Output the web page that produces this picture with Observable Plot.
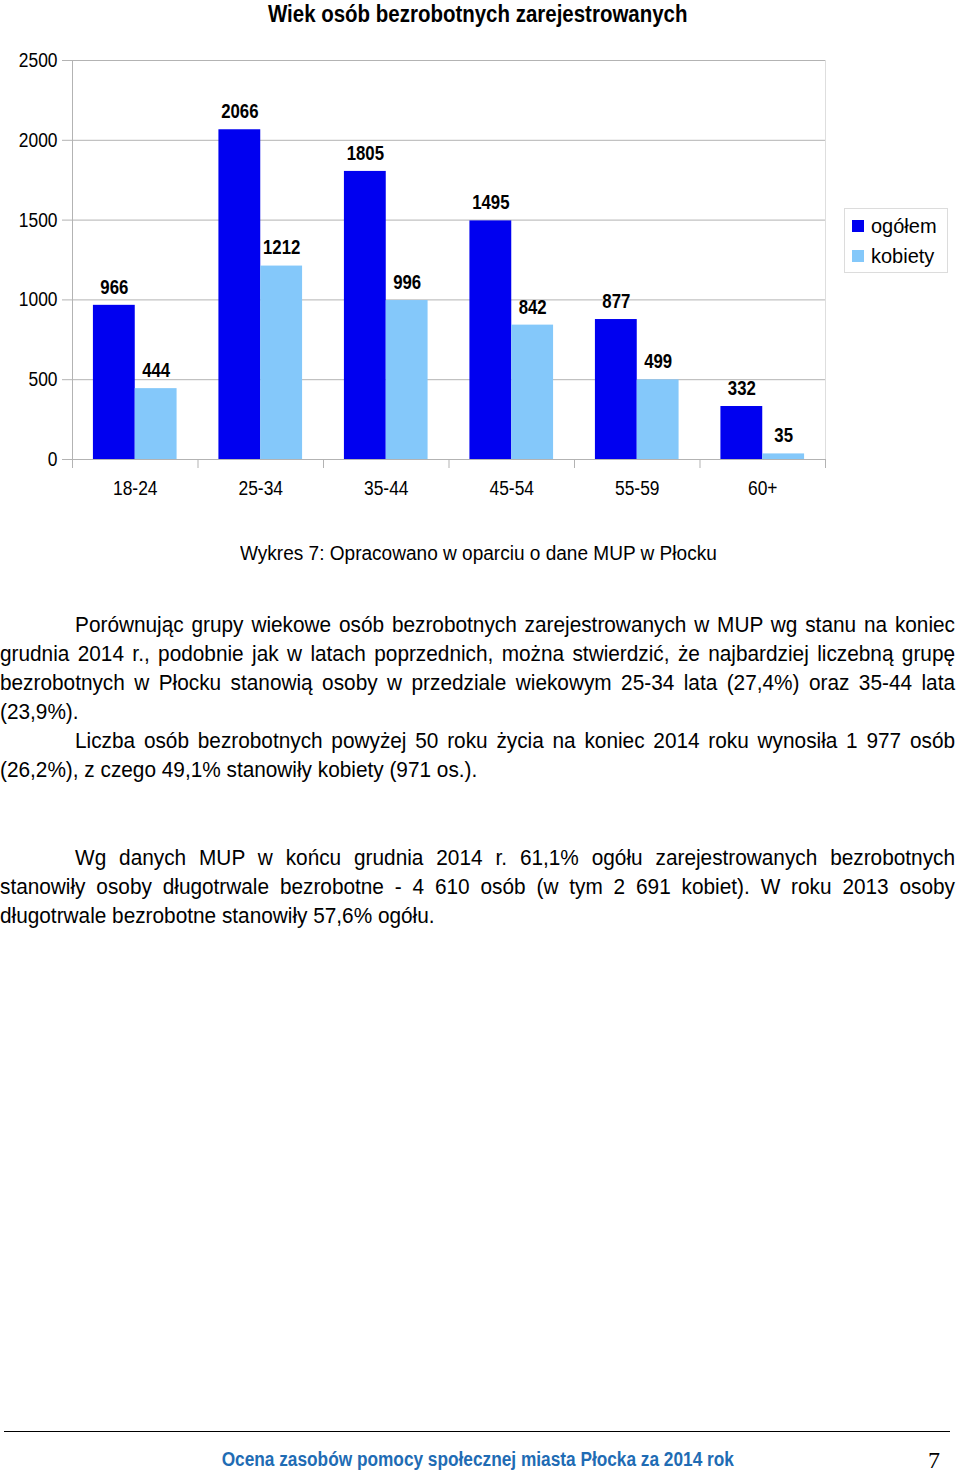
<!DOCTYPE html>
<html>
<head>
<meta charset="utf-8">
<script src="https://cdn.jsdelivr.net/npm/d3@7"></script>
<script src="https://cdn.jsdelivr.net/npm/@observablehq/plot@0.6"></script>
<style>
  html, body { margin: 0; padding: 0; background: #fff; }
  body { width: 960px; height: 1471px; position: relative; overflow: hidden;
         font-family: "Liberation Sans Narrow", "Arial Narrow", "Liberation Sans", sans-serif; color: #000; }
  .abs { position: absolute; }
  .sx { display: inline-block; white-space: nowrap; transform-origin: 50% 50%; }
  #title { top: 0; left: 0; width: 956px; text-align: center; font-weight: bold; font-size: 23px; line-height: 28px; }
  #title .sx { transform: scaleX(0.89); }
  #chart { top: 30px; left: 0; }
  #legend { left: 844px; top: 208px; width: 104px; height: 65px; border: 1px solid #dcdcdc; box-sizing: border-box; }
  .lg-row { position: absolute; left: 7px; font-size: 20px; line-height: 24px; height: 24px; white-space: nowrap; }
  .lg-sw { display: inline-block; width: 12px; height: 12px; vertical-align: middle; margin-right: 7px; position: relative; top: -2px; }
  #caption { top: 540px; left: 0; width: 956px; text-align: center; font-size: 20px; line-height: 26px; }
  #caption .sx { transform: scaleX(0.952); }
  .para { left: 0; width: 1010.6px; font-size: 22px; line-height: 29px; transform: scaleX(0.945); transform-origin: 0 0; }
  .ln { height: 29px; white-space: nowrap; text-align: justify; text-align-last: justify; }
  .ln.last { text-align: left; text-align-last: left; }
  .ln.indent { padding-left: 79.4px; }
  #rule { left: 4px; top: 1431px; width: 946px; height: 0; border-top: 1px solid #000; }
  #footer { top: 1446px; left: 0; width: 956px; text-align: center; font-size: 20px; line-height: 26px; font-weight: bold; color: #1f6cb4; }
  #footer .sx { transform: scaleX(0.863); }
  #pagenum { top: 1445px; left: 928px; width: 20px; font-family: "Liberation Serif", serif; font-size: 24px; line-height: 30px; }
</style>
</head>
<body>
<div id="title" class="abs"><span class="sx">Wiek osób bezrobotnych zarejestrowanych</span></div>
<div id="chart" class="abs"></div>
<div id="legend" class="abs"></div>
<div id="caption" class="abs"><span class="sx">Wykres 7: Opracowano w oparciu o dane MUP w Płocku</span></div>
<div class="abs para" style="top:610px">
  <div class="ln indent">Porównując grupy wiekowe osób bezrobotnych zarejestrowanych w MUP wg stanu na koniec</div>
  <div class="ln">grudnia 2014 r., podobnie jak w latach poprzednich, można stwierdzić, że najbardziej liczebną grupę</div>
  <div class="ln">bezrobotnych w Płocku stanowią osoby w przedziale wiekowym 25-34 lata (27,4%) oraz 35-44 lata</div>
  <div class="ln last">(23,9%).</div>
  <div class="ln indent">Liczba osób bezrobotnych powyżej 50 roku życia na koniec 2014 roku wynosiła 1 977 osób</div>
  <div class="ln last">(26,2%), z czego 49,1% stanowiły kobiety (971 os.).</div>
</div>
<div class="abs para" style="top:843px">
  <div class="ln indent">Wg danych MUP w końcu grudnia 2014 r. 61,1% ogółu zarejestrowanych bezrobotnych</div>
  <div class="ln">stanowiły osoby długotrwale bezrobotne - 4 610 osób (w tym 2 691 kobiet). W roku 2013 osoby</div>
  <div class="ln last">długotrwale bezrobotne stanowiły 57,6% ogółu.</div>
</div>
<div id="rule" class="abs"></div>
<div id="footer" class="abs"><span class="sx">Ocena zasobów pomocy społecznej miasta Płocka za 2014 rok</span></div>
<div id="pagenum" class="abs">7</div>
<script>
// ---- data ----
const categories = ["18-24", "25-34", "35-44", "45-54", "55-59", "60+"];
const ogolem = [966, 2066, 1805, 1495, 877, 332];
const kobiety = [444, 1212, 996, 842, 499, 35];
const seriesNames = ["ogółem", "kobiety"];
const seriesColors = ["#0000f0", "#84c8fa"];
const yTicks = [0, 500, 1000, 1500, 2000, 2500];

// ---- layout ----
const W = 960, H = 480;
const mL = 72, mR = 135, mT = 30, mB = 51;
const bw = (W - mL - mR) / categories.length; // band width
const half = bw / 2;
const outer = bw / 6;   // outer padding inside band
const barW = (bw - 2 * outer) / 2;
const gridColor = "#b3b3b3";
const fontFam = getComputedStyle(document.body).fontFamily;

const rowsO = categories.map((c, i) => ({cat: c, value: ogolem[i]}));
const rowsK = categories.map((c, i) => ({cat: c, value: kobiety[i]}));

const chart = Plot.plot({
  width: W, height: H,
  marginLeft: mL, marginRight: mR, marginTop: mT, marginBottom: mB,
  style: {fontFamily: fontFam, fontSize: "20px", color: "#000", background: "transparent"},
  x: {domain: categories, paddingInner: 0, paddingOuter: 0, round: false, label: null},
  y: {domain: [0, 2500], label: null},
  marks: [
    Plot.gridY(yTicks, {stroke: gridColor, strokeOpacity: 1}),
    // right border of plot area
    Plot.ruleX([categories[categories.length - 1]], {x: d => d, dx: half, y1: 2500, y2: 0, stroke: "#dedede"}),
    // left axis line (extends below zero)
    Plot.ruleX([categories[0]], {x: d => d, dx: -half, y1: 2500, y2: 0, insetBottom: -9, stroke: gridColor}),
    // category boundary ticks
    Plot.ruleX(categories.slice(1), {x: d => d, dx: -half, y1: 0, y2: 0, insetBottom: -9, stroke: gridColor}),
    Plot.ruleX([categories[categories.length - 1]], {x: d => d, dx: half, y1: 0, y2: 0, insetBottom: -9, stroke: gridColor}),
    Plot.barY(rowsO, {x: "cat", y: "value", fill: seriesColors[0], insetLeft: outer, insetRight: outer + barW}),
    Plot.barY(rowsK, {x: "cat", y: "value", fill: seriesColors[1], insetLeft: outer + barW, insetRight: outer}),
    Plot.text(rowsO, {x: "cat", y: "value", text: d => String(d.value), dx: -barW / 2, dy: -18, fontWeight: "bold", fontSize: 20, fill: "#000"}),
    Plot.text(rowsK, {x: "cat", y: "value", text: d => String(d.value), dx: barW / 2, dy: -18, fontWeight: "bold", fontSize: 20, fill: "#000"}),
    Plot.axisY({ticks: yTicks, tickFormat: d => String(d), tickSize: 10, tickPadding: 5, stroke: gridColor, fill: "#000", fontSize: 20, label: null}),
    Plot.axisX({tickSize: 0, tickPadding: 21, fill: "#000", fontSize: 20, label: null})
  ]
});

// condense chart texts horizontally (narrow typeface look): scale about each text's anchor
function condense(sel, s) {
  chart.querySelectorAll(sel).forEach(t => {
    const tr = t.getAttribute("transform") || "";
    t.setAttribute("transform", `${tr} scale(${s},1)`.trim());
  });
}
condense('g[aria-label="text"] text', 0.84);
condense('g[aria-label$="tick label"] text', 0.87);
document.getElementById("chart").appendChild(chart);

// ---- legend ----
const legend = document.getElementById("legend");
seriesNames.forEach((name, i) => {
  const row = document.createElement("div");
  row.className = "lg-row";
  row.style.top = (5 + i * 30) + "px";
  const sw = document.createElement("span");
  sw.className = "lg-sw";
  sw.style.background = seriesColors[i];
  row.appendChild(sw);
  row.appendChild(document.createTextNode(name));
  legend.appendChild(row);
});
</script>
</body>
</html>
